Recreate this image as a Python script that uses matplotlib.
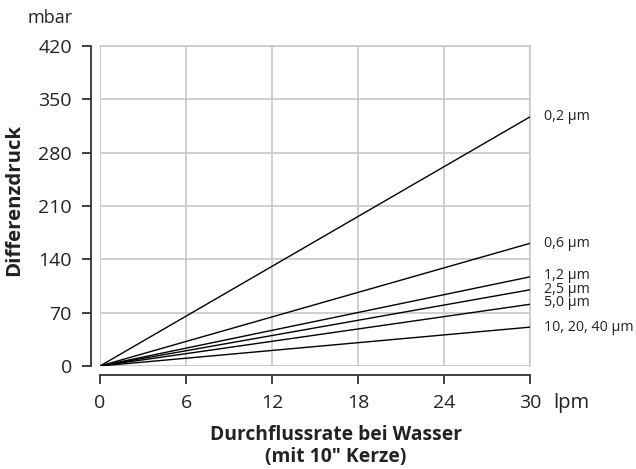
import matplotlib
matplotlib.use("Agg")
import matplotlib.pyplot as plt

plt.rcParams['font.family'] = ['Open Sans', 'DejaVu Sans']

flow = [0, 30]
series_labels = ["0,2 µm", "0,6 µm", "1,2 µm", "2,5 µm", "5,0 µm", "10, 20, 40 µm"]
series_end_values = [327, 161, 117, 100, 81, 51]
label_y = [327, 161, 119, 101, 83, 51]
x_ticks = [0, 6, 12, 18, 24, 30]
y_ticks = [0, 70, 140, 210, 280, 350, 420]

W, H = 636, 469
fig = plt.figure(figsize=(6.36, 4.69), dpi=100)
ax = fig.add_axes([100/W, 1-366/H, 430/W, 320/H])

for lab, v in zip(series_labels, series_end_values):
    ax.plot(flow, [0, v], color='black', lw=1.0, zorder=3)

ax.set_xlim(0, 30)
ax.set_ylim(0, 420)
ax.set_xticks(x_ticks)
ax.set_yticks(y_ticks)
ax.grid(True, color='#c8c8c8', lw=1.2, zorder=0)
ax.set_axisbelow(True)
for s in ['top', 'right']:
    ax.spines[s].set_color('#c8c8c8')
    ax.spines[s].set_linewidth(1.2)
ax.axvline(0, color='#c8c8c8', lw=1.2, zorder=1)
ax.axhline(0, color='#c8c8c8', lw=1.2, zorder=1)
for s in ['left', 'bottom']:
    ax.spines[s].set_position(('outward', 6.5))
    ax.spines[s].set_color('#333333')
    ax.spines[s].set_linewidth(1.3)
ax.tick_params(axis='both', colors='#333333', labelsize=14, length=6.8, width=1.3,
               labelcolor='#222222')
ax.tick_params(axis='x', pad=6.5)
ax.tick_params(axis='y', pad=7)

for lab, y in zip(series_labels, label_y):
    ax.text(31.0, y, lab, fontsize=10.3, color='#222222', va='center', ha='left')

fig.text(50/W, 1-18/H, "mbar", fontsize=13, color='#222222', ha='center', va='center')
fig.text(571/W, 1-403/H, "lpm", fontsize=14.5, color='#222222', ha='center', va='center')
fig.text(14/W, 1-200/H, "Differenzdruck", fontsize=14.7, fontweight='bold',
         color='#222222', ha='center', va='center', rotation=90)
fig.text(336/W, 1-435/H, "Durchflussrate bei Wasser", fontsize=13.9, fontweight='bold',
         color='#222222', ha='center', va='center')
fig.text(336/W, 1-457/H, "(mit 10\" Kerze)", fontsize=13.9, fontweight='bold',
         color='#222222', ha='center', va='center')

fig.savefig("out.png", dpi=100)
